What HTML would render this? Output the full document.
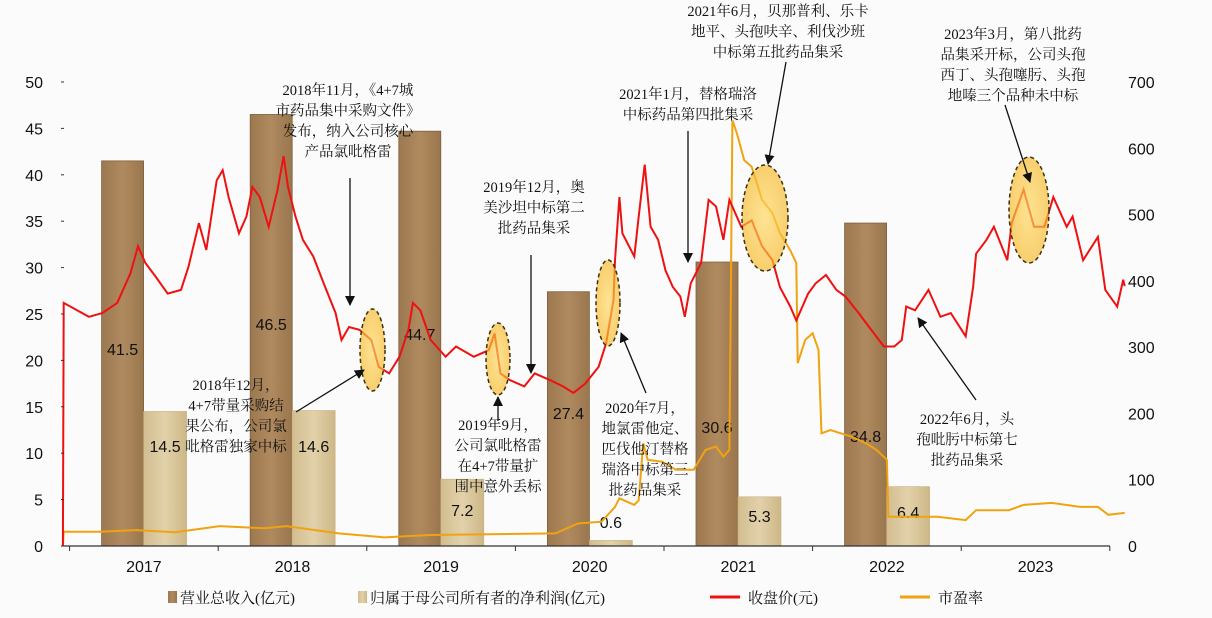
<!DOCTYPE html>
<html><head><meta charset="utf-8">
<style>
html,body{margin:0;padding:0;background:#fbfbfb;}
svg{display:block;}
.ax{font-family:"Liberation Sans",sans-serif;font-size:16px;fill:#111;}
.bl{font-family:"Liberation Sans",sans-serif;font-size:16px;fill:#111;}
.an{font-family:"Liberation Serif","Noto Serif CJK SC",serif;font-size:14.5px;fill:#111;}
.lg{font-family:"Liberation Serif","Noto Serif CJK SC",serif;font-size:15px;fill:#111;}
</style></head>
<body>
<svg id="chart" width="1212" height="618" viewBox="0 0 1212 618">
<defs>
<linearGradient id="gRev" x1="0" x2="1" y1="0" y2="0"><stop offset="0" stop-color="#9c7850"/><stop offset="0.5" stop-color="#b08a5f"/><stop offset="1" stop-color="#9a764e"/></linearGradient>
<linearGradient id="gPro" x1="0" x2="1" y1="0" y2="0"><stop offset="0" stop-color="#d2bd90"/><stop offset="0.5" stop-color="#e2d1aa"/><stop offset="1" stop-color="#cdb787"/></linearGradient>
<radialGradient id="gEl"><stop offset="0" stop-color="#ffd860" stop-opacity="0.9"/><stop offset="1" stop-color="#f7b92a" stop-opacity="0.9"/></radialGradient>
<marker id="ah" markerWidth="10" markerHeight="10" refX="9" refY="5" orient="auto" markerUnits="userSpaceOnUse"><path d="M0,0 L10,5 L0,10 z" fill="#111"/></marker>
</defs>
<g id="bars"></g>
<g id="lines"></g>
<g id="ellipses"></g>
<g id="axes"></g>
<g id="annot"></g>
<g id="legend"></g>
</svg>
<script>
const years = ["2017","2018","2019","2020","2021","2022","2023"];
const revenue = [41.5,46.5,44.7,27.4,30.6,34.8];
const profit = [14.5,14.6,7.2,0.6,5.3,6.4];
const leftTicks = [0,5,10,15,20,25,30,35,40,45,50];
const rightTicks = [0,100,200,300,400,500,600,700];
const priceDates = [2016.955,2016.96,2017.13,2017.22,2017.32,2017.41,2017.46,2017.51,2017.58,2017.66,2017.75,2017.80,2017.87,2017.92,2017.99,2018.03,2018.07,2018.14,2018.19,2018.23,2018.28,2018.34,2018.40,2018.44,2018.47,2018.52,2018.57,2018.64,2018.71,2018.79,2018.83,2018.88,2018.95,2019.03,2019.08,2019.15,2019.22,2019.28,2019.31,2019.36,2019.43,2019.53,2019.60,2019.72,2019.82,2019.86,2019.90,2019.96,2020.06,2020.13,2020.23,2020.32,2020.39,2020.47,2020.56,2020.61,2020.66,2020.67,2020.70,2020.72,2020.80,2020.83,2020.87,2020.91,2020.96,2021.01,2021.06,2021.11,2021.14,2021.18,2021.25,2021.30,2021.35,2021.40,2021.44,2021.52,2021.59,2021.66,2021.73,2021.78,2021.85,2021.89,2021.97,2022.02,2022.09,2022.16,2022.22,2022.31,2022.38,2022.48,2022.55,2022.60,2022.63,2022.69,2022.78,2022.86,2022.93,2023.03,2023.08,2023.10,2023.17,2023.22,2023.31,2023.34,2023.42,2023.49,2023.56,2023.62,2023.71,2023.75,2023.82,2023.92,2023.97,2024.05,2024.09,2024.10];
const priceValues = [0,26.2,24.7,25.1,26.2,29.4,32.3,30.5,29.0,27.2,27.6,30.1,34.8,31.9,39.4,40.5,37.6,33.7,35.5,38.7,37.6,34.4,38.4,42.0,38.7,35.5,33.0,31.2,28.3,25.1,22.2,23.6,23.3,22.2,19.3,18.6,20.4,23.3,26.2,25.4,22.2,20.4,21.5,20.4,21.1,22.9,18.6,17.9,17.2,18.6,17.9,17.2,16.5,17.5,19.3,21.8,26.5,30.8,37.6,33.7,31.2,35.5,41.1,34.4,33.0,29.7,27.9,26.9,24.7,28.3,30.5,37.3,36.6,33.0,37.3,34.4,35.1,32.3,30.8,27.9,25.8,24.3,27.2,28.3,29.2,27.6,26.9,25.1,23.6,21.5,21.5,22.2,25.8,25.4,27.6,24.7,25.1,22.6,27.9,31.5,33.0,34.4,30.8,34.8,38.4,34.4,34.4,37.6,34.4,35.5,30.8,33.3,27.6,25.8,28.7,28.0];
const peDates = [2016.955,2016.96,2017.20,2017.45,2017.71,2018.01,2018.31,2018.46,2018.81,2019.12,2019.42,2019.82,2020.27,2020.42,2020.58,2020.67,2020.70,2020.80,2020.83,2020.86,2020.89,2020.99,2021.08,2021.20,2021.28,2021.35,2021.40,2021.44,2021.46,2021.49,2021.54,2021.59,2021.66,2021.73,2021.78,2021.85,2021.89,2021.90,2021.95,2022.00,2022.04,2022.06,2022.12,2022.26,2022.36,2022.43,2022.50,2022.51,2022.65,2022.84,2023.03,2023.10,2023.32,2023.42,2023.61,2023.80,2023.92,2023.99,2024.10];
const peValues = [0,21.6,21.6,24,20.6,30,26.7,30,19,13,16.6,17.6,19,34,36.7,59,72,62,69,155,130,127,115,115,145,150,135,145,642,623,582,572,522,502,472,446,427,276,311,321,296,170,175,165,155,145,130,44,44,44,39,54,54,62,65,59,59,47,50];

const NS="http://www.w3.org/2000/svg";
const X0=69.6, YW=148.6, YB=546, YT=82;
const xT = t => X0 + (t-2017)*YW;
const yL = v => YB - v*(YB-YT)/50;
const yR = v => YB - v*(YB-YT)/700;
function mk(tag, attrs, parent){const e=document.createElementNS(NS,tag);for(const k in attrs)e.setAttribute(k,attrs[k]);parent.appendChild(e);return e;}
function txt(s, attrs, parent){const e=mk('text',attrs,parent);e.textContent=s;return e;}

const gB=document.getElementById('bars');
const revLabelY=[355,330,340,419,433,442];
const proLabelY=[452,452,516,528,522,518];
revenue.forEach((v,i)=>{
  const x=X0+i*YW+32;
  const r=mk('rect',{x:x,y:yL(v),width:42,height:YB-yL(v),fill:'url(#gRev)',stroke:'#7e5f3c','stroke-width':0.8},gB);
  
  
  const t=txt(String(v),{x:x+21,y:Math.max(revLabelY[i],yL(v)+20),'text-anchor':'middle',class:'bl'},gB);
  
  
});
profit.forEach((v,i)=>{
  const x=X0+i*YW+74;
  const r=mk('rect',{x:x,y:yL(v),width:43,height:YB-yL(v),fill:'url(#gPro)',stroke:'#c9b17e','stroke-width':0.6},gB);
  
  
  const t=txt(String(v),{x:x+21.5,y:proLabelY[i],'text-anchor':'middle',class:'bl'},gB);
  
  
});

const gL=document.getElementById('lines');
const pe=mk('polyline',{points:peDates.map((d,i)=>xT(d).toFixed(1)+','+yR(peValues[i]).toFixed(1)).join(' '),fill:'none',stroke:'#f0a310','stroke-width':2},gL);


const pr=mk('polyline',{points:priceDates.map((d,i)=>xT(d).toFixed(1)+','+yL(priceValues[i]).toFixed(1)).join(' '),fill:'none',stroke:'#ee1111','stroke-width':2},gL);



const gE=document.getElementById('ellipses');
[[372.5,350,12.5,41],[498,359,12,36],[608,303,12,43],[765,218,23,53],[1029,210,20,53]].forEach((e,i)=>{
  const el=mk('ellipse',{cx:e[0],cy:e[1],rx:e[2],ry:e[3],fill:'url(#gEl)','fill-opacity':0.75,stroke:'#3a3010','stroke-width':1.5,'stroke-dasharray':'4,3'},gE);
  
  
});

const gA=document.getElementById('axes');
const base=mk('line',{x1:64,y1:YB,x2:1110,y2:YB,stroke:'#333','stroke-width':1.2},gA);


for(let i=0;i<=7;i++){const tk=mk('line',{x1:X0+i*YW,y1:YB,x2:X0+i*YW,y2:YB+5,stroke:'#333'},gA);
  
  }
years.forEach((y,i)=>{const t=txt(y,{x:X0+i*YW+YW/2,y:572,'text-anchor':'middle',class:'ax'},gA);
  
  });
leftTicks.forEach(v=>{const t=txt(String(v),{x:43,y:yL(v)+6,'text-anchor':'end',class:'ax'},gA);
  
  
  mk('line',{x1:61,y1:yL(v),x2:64,y2:yL(v),stroke:'#333'},gA);});
rightTicks.forEach(v=>{const t=txt(String(v),{x:1128,y:yR(v)+6,'text-anchor':'start',class:'ax'},gA);
  
  });

const gN=document.getElementById('annot');
const notes=[
 [348,95,["2018年11月，《4+7城","市药品集中采购文件》","发布，纳入公司核心","产品氯吡格雷"],[350,178,350,305]],
 [236,390,["2018年12月，","4+7带量采购结","果公布，公司氯","吡格雷独家中标"],[296,412,364,370]],
 [534,192,["2019年12月，奥","美沙坦中标第二","批药品集采"],[531,255,531,373]],
 [498,430,["2019年9月，","公司氯吡格雷","在4+7带量扩","围中意外丢标"],[498,421,498,397]],
 [645,413,["2020年7月，","地氯雷他定、","匹伐他汀替格","瑞洛中标第三","批药品集采"],[646,393,621,333]],
 [688,99,["2021年1月，替格瑞洛","中标药品第四批集采"],[688,131,688,262]],
 [778,16,["2021年6月，贝那普利、乐卡","地平、头孢呋辛、利伐沙班","中标第五批药品集采"],[786,62,768,164]],
 [1013,39,["2023年3月，第八批药","品集采开标，公司头孢","西丁、头孢噻肟、头孢","地嗪三个品种未中标"],[1005,105,1030,182]],
 [967,424,["2022年6月，头","孢吡肟中标第七","批药品集采"],[976,400,918,318]]
];
notes.forEach((n,k)=>{
  const g=mk('g',{},gN);
  
  
  n[2].forEach((s,j)=>txt(s,{x:n[0],y:n[1]+j*20.5,'text-anchor':'middle',class:'an'},g));
  const a=n[3];
  const ar=mk('line',{x1:a[0],y1:a[1],x2:a[2],y2:a[3],stroke:'#111','stroke-width':1.3,'marker-end':'url(#ah)'},g);
  
  
});

const gG=document.getElementById('legend');
const items=[['rect','url(#gRev)',168,'营业总收入(亿元)'],['rect','url(#gPro)',358,'归属于母公司所有者的净利润(亿元)'],['line','#ee1111',710,'收盘价(元)'],['line','#f0a310',900,'市盈率']];
items.forEach((it,i)=>{
  const g=mk('g',{},gG);
  
  
  if(it[0]==='rect'){mk('rect',{x:it[2],y:591,width:9,height:12,fill:it[1]},g);txt(it[3],{x:it[2]+12,y:603,class:'lg'},g);}
  else{mk('line',{x1:it[2],y1:597,x2:it[2]+30,y2:597,stroke:it[1],'stroke-width':3},g);txt(it[3],{x:it[2]+38,y:603,class:'lg'},g);}
});
</script>
</body></html>
